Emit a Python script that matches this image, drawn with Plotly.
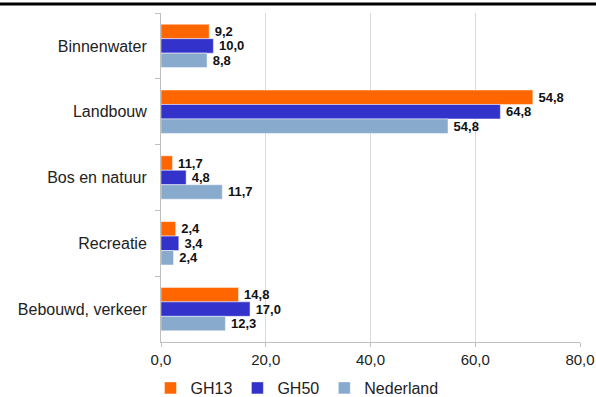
import plotly.graph_objects as go

categories = ["Binnenwater", "Landbouw", "Bos en natuur", "Recreatie", "Bebouwd, verkeer"]
series_names = ["GH13", "GH50", "Nederland"]
gh13_values = [9.2, 71.0, 2.2, 2.8, 14.8]
gh50_values = [10.0, 64.8, 4.8, 3.4, 17.0]
nl_values = [8.8, 54.8, 11.7, 2.4, 12.3]
gh13_labels = ["9,2", "54,8", "11,7", "2,4", "14,8"]
gh50_labels = ["10,0", "64,8", "4,8", "3,4", "17,0"]
nl_labels = ["8,8", "54,8", "11,7", "2,4", "12,3"]
x_ticks = [0, 20, 40, 60, 80]

colors = ["#FF6600", "#3333CC", "#88AACC"]
values = [gh13_values, gh50_values, nl_values]
labels = [gh13_labels, gh50_labels, nl_labels]

FONT = "Liberation Sans"

fig = go.Figure()
for name, vals, labs, col in zip(series_names, values, labels, colors):
    fig.add_trace(go.Bar(
        y=categories, x=vals, name=name, orientation="h",
        marker=dict(color=col, line=dict(color="rgba(255,255,255,0.6)", width=0.8)),
        text=labs, texttemplate="\u2009%{text}", textposition="outside",
        constraintext="none",
        textfont=dict(family=FONT, size=13, color="#111111", weight="bold"),
        cliponaxis=False,
    ))

W, H = 596, 397
ml, mr, mt, mb = 161, 16, 13, 55
pw, ph = W - ml - mr, H - mt - mb

fig.update_layout(
    width=W, height=H,
    margin=dict(l=ml, r=mr, t=mt, b=mb, autoexpand=False),
    barmode="group", bargap=0.34, bargroupgap=0,
    plot_bgcolor="white", paper_bgcolor="white",
    separators=",.",
    font=dict(family=FONT, size=15, color="#222222"),
    showlegend=True,
    legend=dict(orientation="h", x=(297 - ml) / pw, xanchor="center",
                y=-46 / ph, yanchor="middle",
                font=dict(family=FONT, size=16, color="#222222"),
                itemwidth=30, tracegroupgap=0),
    xaxis=dict(range=[0, 80], tickvals=x_ticks, tickformat=".1f", automargin=False,
               showgrid=True, gridcolor="#D9D9D9", gridwidth=1,
               zeroline=False, showline=True, linecolor="#BFBFBF", linewidth=1,
               ticks="outside", ticklen=4, tickcolor="#BFBFBF",
               tickfont=dict(family=FONT, size=15, color="#222222")),
    yaxis=dict(autorange="reversed", automargin=False, showline=True,
               linecolor="#BFBFBF", linewidth=1,
               ticks="outside", tickson="boundaries", ticklen=5, tickcolor="#BFBFBF",
               ticklabelstandoff=10,
               tickfont=dict(family=FONT, size=16, color="#222222"), showgrid=False),
    shapes=[dict(type="rect", xref="paper", yref="paper", layer="above",
                 x0=-ml / pw, x1=1 + mr / pw, y0=1 + 7.5 / ph, y1=1 + 10.5 / ph,
                 line=dict(width=0), fillcolor="black")],
)

fig.write_html("out.html", config={"displayModeBar": False},
               post_script="document.body.style.margin='0';")
